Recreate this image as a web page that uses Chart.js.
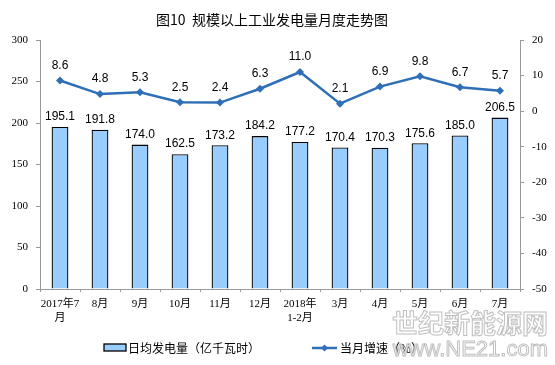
<!DOCTYPE html>
<html>
<head>
<meta charset="utf-8">
<script src="https://cdn.jsdelivr.net/npm/chart.js@4"></script>
<style>
  html, body { margin: 0; padding: 0; background: #fff; }
  #wrap { width: 555px; height: 365px; }
</style>
</head>
<body>
<div id="wrap"><canvas id="canvas" width="555" height="365"></canvas></div>
<script>
var months = [["2017年7", "月"], "8月", "9月", "10月", "11月", "12月", ["2018年", "1-2月"], "3月", "4月", "5月", "6月", "7月"];
var dailyOutput = [195.1, 191.8, 174.0, 162.5, 173.2, 184.2, 177.2, 170.4, 170.3, 175.6, 185.0, 206.5];
var growth = [8.6, 4.8, 5.3, 2.5, 2.4, 6.3, 11.0, 2.1, 6.9, 9.8, 6.7, 5.7];
var barName = "日均发电量（亿千瓦时）";
var lineName = "当月增速（%）";

var lineColor = '#2e6fb7';
var barColor = '#99ccff';
var axisColor = '#999999';
var serif = "'Liberation Serif', 'Noto Sans CJK SC', serif";
var sans = "'Liberation Sans', Arial, sans-serif";
var cjk = "'Noto Sans CJK SC', sans-serif";

var extras = {
	id: 'extras',
	afterDatasetsDraw: function(chart) {
		var c = chart.ctx;
		c.save();
		// bar value labels
		c.font = '12px ' + sans;
		c.fillStyle = '#000';
		c.textAlign = 'center';
		c.textBaseline = 'bottom';
		chart.getDatasetMeta(1).data.forEach(function(el, i) {
			c.fillText(dailyOutput[i].toFixed(1), el.x, el.y - 4);
		});
		// line value labels
		chart.getDatasetMeta(0).data.forEach(function(el, i) {
			c.fillText(growth[i].toFixed(1), el.x, el.y - 9);
		});
		c.restore();
	},
	afterDraw: function(chart) {
		var c = chart.ctx;
		c.save();
		// title
		c.font = '14px ' + cjk;
		c.fillStyle = '#000';
		c.textAlign = 'center';
		c.textBaseline = 'middle';
		c.fillText("图10  规模以上工业发电量月度走势图", 272, 20);
		// legend
		c.font = '12px ' + cjk;
		c.textAlign = 'left';
		c.fillStyle = barColor;
		c.fillRect(104, 344, 22, 7);
		c.strokeStyle = '#000';
		c.lineWidth = 1.3;
		c.strokeRect(104, 344, 22, 7);
		c.fillStyle = '#000';
		c.fillText(barName, 128, 348);
		c.strokeStyle = lineColor;
		c.lineWidth = 2.5;
		c.beginPath();
		c.moveTo(312, 348);
		c.lineTo(337, 348);
		c.stroke();
		c.fillStyle = lineColor;
		c.beginPath();
		c.moveTo(324.5, 344.5);
		c.lineTo(328, 348);
		c.lineTo(324.5, 351.5);
		c.lineTo(321, 348);
		c.closePath();
		c.fill();
		c.fillStyle = '#000';
		c.fillText(lineName, 340, 348);
		// watermark
		c.font = 'bold 26px ' + cjk;
		c.fillStyle = 'rgba(255,255,255,0.85)';
		c.strokeStyle = 'rgba(170,170,170,0.75)';
		c.lineWidth = 1;
		c.textAlign = 'right';
		c.fillText("世纪新能源网", 548, 323);
		c.strokeText("世纪新能源网", 548, 323);
		c.font = '22px ' + sans;
		c.fillText("www.NE21.com", 548, 350);
		c.strokeText("www.NE21.com", 548, 350);
		c.restore();
	}
};

window.onload = function() {
	var ctx = document.getElementById('canvas');
	window.myChart = new Chart(ctx, {
		type: 'bar',
		data: {
			labels: months,
			datasets: [
			{
				type: 'line',
				label: lineName,
				data: growth,
				yAxisID: 'y1',
				borderColor: lineColor,
				backgroundColor: lineColor,
				borderWidth: 2.5,
				pointStyle: 'rectRot',
				pointRadius: 4,
				pointBorderWidth: 0,
				tension: 0,
				order: 0
			},
			{
				label: barName,
				data: dailyOutput,
				yAxisID: 'y',
				backgroundColor: barColor,
				borderColor: '#000',
				borderWidth: 1.3,
				barPercentage: 0.42,
				categoryPercentage: 1,
				order: 1
			}
			]
		},
		options: {
			responsive: false,
			animation: false,
			layout: { padding: { top: 40, bottom: 36, left: 0, right: 0 } },
			plugins: {
				legend: { display: false },
				title: { display: false },
				tooltip: { enabled: false }
			},
			scales: {
				x: {
					grid: { drawOnChartArea: false, tickLength: 3, color: axisColor },
					border: { color: axisColor },
					ticks: { color: '#000', font: { family: serif, size: 11, lineHeight: 1.25 }, maxRotation: 0, autoSkip: false, padding: 5 },
					afterFit: function(s) { s.height = 40; }
				},
				y: {
					position: 'left',
					min: 0, max: 300,
					grid: { drawOnChartArea: false, tickLength: 4, color: axisColor },
					border: { color: axisColor },
					ticks: { stepSize: 50, color: '#000', font: { family: serif, size: 11 }, padding: 8 },
					afterFit: function(s) { s.width = 40; }
				},
				y1: {
					position: 'right',
					min: -50, max: 20,
					grid: { drawOnChartArea: false, tickLength: 4, color: axisColor },
					border: { color: axisColor },
					ticks: { stepSize: 10, color: '#000', font: { family: serif, size: 11 }, padding: 8 },
					afterFit: function(s) { s.width = 35; }
				}
			}
		},
		plugins: [extras]
	});
};
</script>
</body>
</html>
